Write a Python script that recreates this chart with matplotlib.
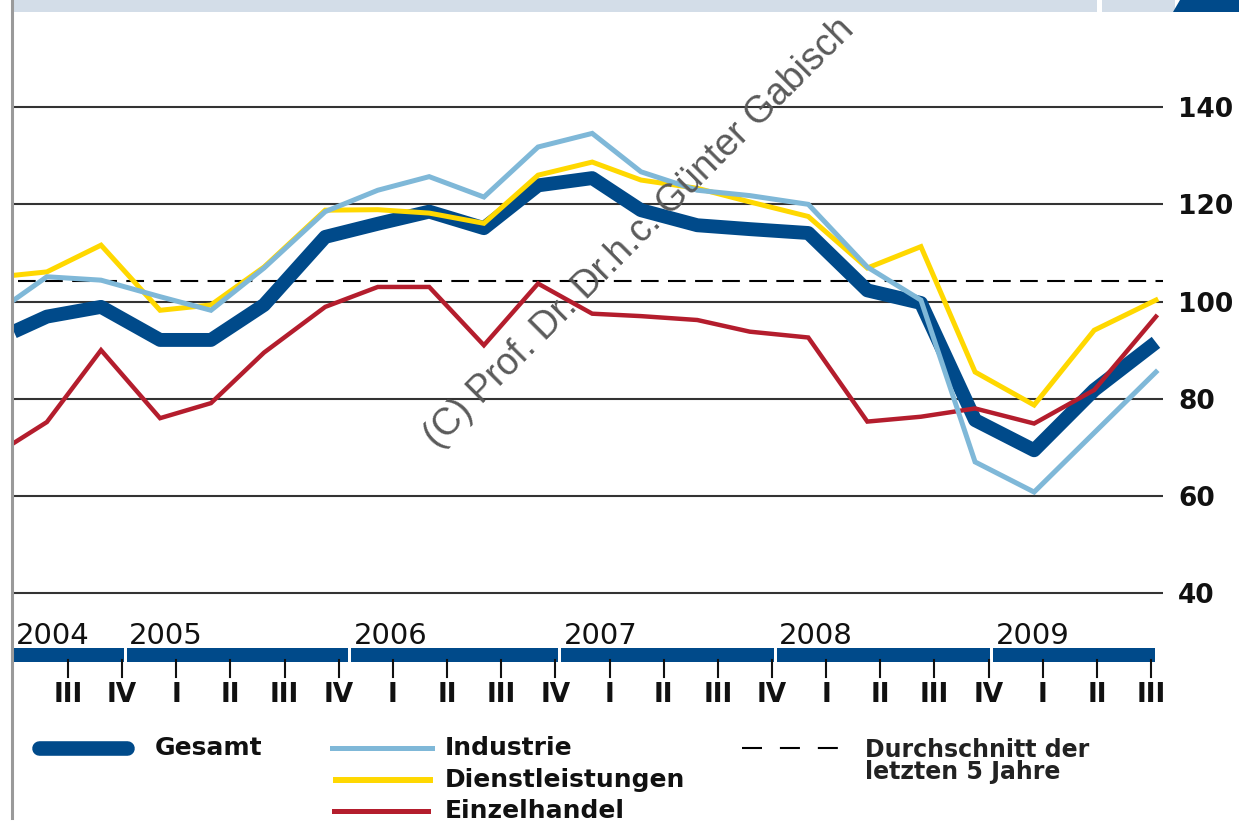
import matplotlib.pyplot as plt
from matplotlib import transforms
from matplotlib.lines import Line2D
from matplotlib.patches import Rectangle, Polygon

# ---- data ----
# time in quarters: 0 = end of 2004 Q2, 21 = end of 2009 Q3
t = [0, 0.61, 1.61, 2.70, 3.64, 4.62, 5.75, 6.72, 7.67, 8.68, 9.68,
     10.68, 11.58, 12.62, 13.59, 14.67, 15.76, 16.75, 17.75, 18.84, 19.95, 21.09]

gesamt = [93.8, 96.9, 98.9, 92.1, 92.1, 99.3, 113.3, 116.0, 118.5, 115.1, 123.9,
          125.4, 118.8, 115.7, 114.9, 114.1, 102.3, 99.7, 75.6, 69.4, 81.8, 91.6]
industrie = [100.3, 105.1, 104.4, 101.0, 98.2, 106.9, 118.5, 122.9, 125.7, 121.5, 131.8,
             134.6, 126.7, 122.9, 121.8, 120.0, 107.1, 100.3, 67.0, 60.8, 73.0, 85.5]
dienst = [105.4, 106.1, 111.6, 98.2, 99.3, 107.1, 118.8, 118.9, 118.2, 116.1, 126.0,
          128.7, 125.0, 123.3, 120.5, 117.5, 106.9, 111.3, 85.5, 78.7, 94.1, 100.3]
einzel = [70.9, 75.2, 90.0, 76.0, 79.1, 89.5, 98.9, 103.0, 103.0, 91.0, 103.7,
          97.5, 97.0, 96.2, 93.8, 92.6, 75.3, 76.3, 78.0, 74.9, 81.8, 96.9]
average_5y = 104.2

y_ticks = [40, 60, 80, 100, 120, 140]
quarter_labels = ["III", "IV",
                  "I", "II", "III", "IV",
                  "I", "II", "III", "IV",
                  "I", "II", "III", "IV",
                  "I", "II", "III", "IV",
                  "I", "II", "III"]
years = ["2004", "2005", "2006", "2007", "2008", "2009"]
year_edges = [0, 2.06, 6.2, 10.08, 14.06, 18.06, 21.07]

NAVY = "#004A8A"
LIGHT = "#7FB8D8"
YELLOW = "#FFD800"
RED = "#B41D2D"
GRID = "#333333"

W, H = 1239, 824


def fx(px):
    return px / W


def fy(px):
    return 1 - px / H


plt.rcParams["font.family"] = ["DejaVu Sans"]

fig = plt.figure(figsize=(W / 100, H / 100), dpi=100)
ax = fig.add_axes([fx(12), fy(598), fx(1163) - fx(12), fy(12) - fy(598)])
ax.set_xlim(-0.034, 21.22)
ax.set_ylim(39, 39 + (598 - 12) / 4.86)
for s in ax.spines.values():
    s.set_visible(False)
ax.set_xticks([])
ax.yaxis.tick_right()
ax.set_yticks(y_ticks)
ax.set_yticklabels([str(v) for v in y_ticks], fontweight="bold")
ax.tick_params(axis="y", length=0, pad=10.8, labelsize=19, labelcolor="#111111")
ax.grid(axis="y", color=GRID, lw=1.5)
ax.set_axisbelow(True)

ax.axhline(average_5y, xmin=0.005, xmax=1, color="black", lw=1.5, dashes=(8.5, 4.5))

ax.plot(t, gesamt, color=NAVY, lw=10, solid_joinstyle="round", solid_capstyle="butt", zorder=3)
ax.plot(t, einzel, color=RED, lw=3.2, solid_joinstyle="miter", zorder=4)
ax.plot(t, dienst, color=YELLOW, lw=3.6, solid_joinstyle="miter", zorder=5)
ax.plot(t, industrie, color=LIGHT, lw=3.6, solid_joinstyle="miter", zorder=6)

# watermark
fig.text(fx(639), fy(233), "(C) Prof. Dr. Dr.h.c. Günter Gabisch", rotation=45,
         ha="center", va="center", rotation_mode="anchor", fontsize=27,
         family="Liberation Sans", color="#5a5a5a", zorder=10)

# ---- year bars and quarter axis below the plot ----
bt = transforms.blended_transform_factory(ax.transData, fig.transFigure)
for i, year in enumerate(years):
    x0 = year_edges[i] + (0.0 if i == 0 else 0.03)
    x1 = year_edges[i + 1] - (0.0 if i == len(years) - 1 else 0.03)
    ax.add_patch(Rectangle((x0, fy(662)), x1 - x0, 14 / H, transform=bt,
                           color=NAVY, clip_on=False, lw=0))
    ax.text(x0 + 0.04, fy(636), year, transform=bt, ha="left", va="center",
            fontsize=21, color="#111111")

for k, lab in enumerate(quarter_labels, start=1):
    ax.add_line(Line2D([k, k], [fy(660), fy(677)], transform=bt, color="#111111",
                       lw=1.5, clip_on=False))
    ax.text(k, fy(695), lab, transform=bt, ha="center", va="center",
            fontsize=19, fontweight="bold", color="#111111")

# ---- decorations in figure pixels ----
fig.add_artist(Line2D([fx(12), fx(12)], [fy(0), fy(818)], color="#9A9A9A", lw=2.2))
fig.add_artist(Rectangle((fx(12), fy(12)), fx(1097) - fx(12), 12 / H, color="#D3DDE8", lw=0))
fig.add_artist(Rectangle((fx(1102), fy(12)), fx(1175) - fx(1102), 12 / H, color="#D3DDE8", lw=0))
fig.add_artist(Polygon([(fx(1173), fy(12)), (fx(1180), fy(0)), (fx(1239), fy(0)),
                        (fx(1239), fy(12))], closed=True, color=NAVY, lw=0))

# ---- legend ----
fig.add_artist(Line2D([fx(39), fx(127)], [fy(748), fy(748)], color=NAVY, lw=10.5,
                      solid_capstyle="round"))
fig.add_artist(Line2D([fx(332), fx(432)], [fy(748), fy(748)], color=LIGHT, lw=3.6))
fig.add_artist(Line2D([fx(336), fx(430)], [fy(780), fy(780)], color=YELLOW, lw=4.3))
fig.add_artist(Line2D([fx(334), fx(428)], [fy(811), fy(811)], color=RED, lw=3.6))
fig.add_artist(Line2D([fx(742), fx(840)], [fy(748), fy(748)], color="black", lw=1.5,
                      dashes=(9.6, 8.6)))

legend_text = dict(fontsize=18, fontweight="bold", color="#111111", va="center", ha="left")
fig.text(fx(155), fy(748), "Gesamt", **legend_text)
fig.text(fx(445), fy(748), "Industrie", **legend_text)
fig.text(fx(445), fy(780), "Dienstleistungen", **legend_text)
fig.text(fx(445), fy(811), "Einzelhandel", **legend_text)
fig.text(fx(865), fy(761), "Durchschnitt der\nletzten 5 Jahre", fontsize=17,
         fontweight="bold", color="#222222", va="center", ha="left", linespacing=0.92)

fig.savefig("out.png", dpi=100)
